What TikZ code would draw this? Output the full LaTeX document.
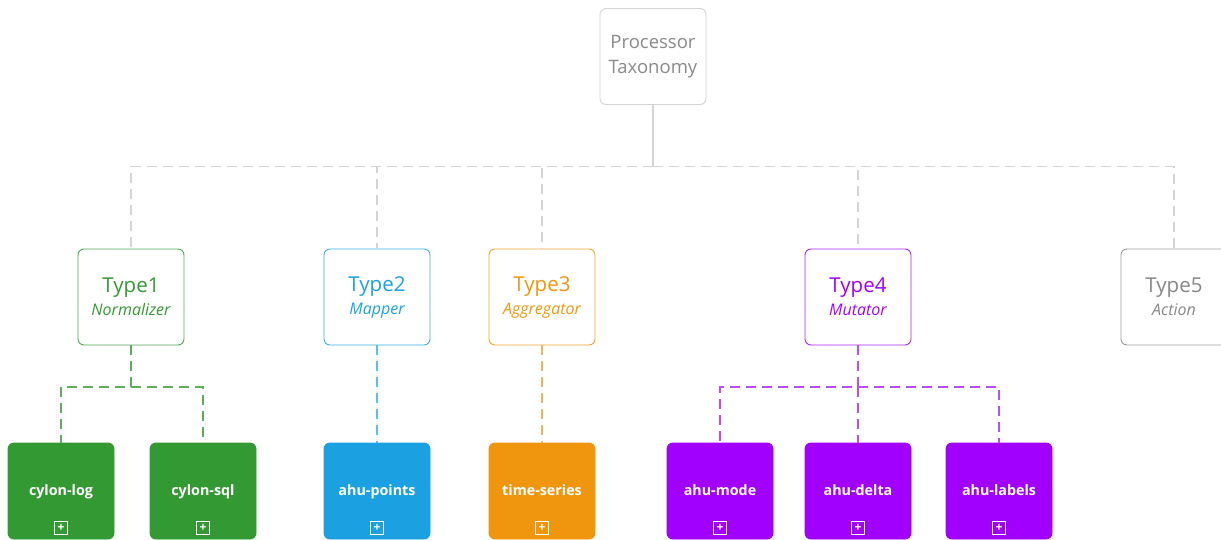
\documentclass[tikz,border=0pt]{standalone}
\usepackage{fontspec}
\setmainfont{Open Sans}
\usetikzlibrary{calc}
\definecolor{gline}{HTML}{D4D4D4}
\definecolor{groot}{HTML}{8A8A8A}
\definecolor{cgreen}{HTML}{339933}
\definecolor{cblue}{HTML}{1BA1E2}
\definecolor{corange}{HTML}{F0960E}
\definecolor{cpurple}{HTML}{A100FF}
\definecolor{cgray}{HTML}{888888}
\newcommand\subtxt{\fontsize{16}{18}\selectfont\itshape}
\tikzset{
  boxbase/.style={rounded corners=6pt, minimum width=106pt, minimum height=96pt, inner sep=0pt, align=center, line width=0.9pt},
  rootbox/.style={boxbase, draw=gline, fill=white, text=groot, font=\fontsize{18.5}{25}\selectfont},
  typebox/.style={boxbase, draw=#1!85, fill=white, text=#1, font=\fontsize{20.5}{23}\selectfont},
  leafbox/.style={boxbase, draw=#1, fill=#1, text=white, text height=11pt, text depth=3pt, font=\fontsize{14.3}{17}\selectfont\bfseries},
  conn/.style={draw=#1, line width=1.1pt, dash pattern=on 10pt off 6pt},
  plusbox/.style={draw=white, line width=0.9pt, minimum size=12.5pt, inner sep=0pt, text=white, font=\fontsize{12}{12}\selectfont\bfseries}
}
\begin{document}
\begin{tikzpicture}[x=1pt,y=-1pt]
\useasboundingbox (0,0) rectangle (1221,539);
% junction coordinates
\coordinate (bus) at (653,166.5);
\coordinate (j1) at (131,387);
\coordinate (j4) at (858,387);
% root
\node[rootbox] (root) at (653,56.5) {Processor\\Taxonomy};
% types
\node[typebox=cgreen] (t1) at (131,297) {Type1\\{\subtxt Normalizer}};
\node[typebox=cblue] (t2) at (377,297) {Type2\\{\subtxt Mapper}};
\node[typebox=corange] (t3) at (542,297) {Type3\\{\subtxt Aggregator}};
\node[typebox=cpurple] (t4) at (858,297) {Type4\\{\subtxt Mutator}};
\node[typebox=cgray] (t5) at (1174,297) {Type5\\{\subtxt Action}};
% leaves
\node[leafbox=cgreen] (l1) at (61,491) {cylon-log};
\node[leafbox=cgreen] (l2) at (203,491) {cylon-sql};
\node[leafbox=cblue] (l3) at (377,491) {ahu-points};
\node[leafbox=corange] (l4) at (542,491) {time-series};
\node[leafbox=cpurple] (l5) at (720,491) {ahu-mode};
\node[leafbox=cpurple] (l6) at (858,491) {ahu-delta};
\node[leafbox=cpurple] (l7) at (999,491) {ahu-labels};
% plus icons
\foreach \n/\x in {p1/61,p2/203,p3/377,p4/542,p5/720,p6/858,p7/999}{
  \node[plusbox] (\n) at (\x,528) {+};
}
% root connectors
\draw[draw=gline, line width=1.1pt] (root.south) -- (bus);
\draw[conn=gline] (bus) -| (t1.north);
\draw[conn=gline] (bus) -| (t2.north);
\draw[conn=gline] (bus) -| (t3.north);
\draw[conn=gline] (bus) -| (t4.north);
\draw[conn=gline] (bus) -| (t5.north);
% type1 branch
\draw[conn=cgreen!80] (t1.south) -- (j1) -| (l1.north);
\draw[conn=cgreen!80] (j1) -| (l2.north);
% type2, type3
\draw[conn=cblue!70] (t2.south) -- (l3.north);
\draw[conn=corange!70] (t3.south) -- (l4.north);
% type4 branch
\draw[conn=cpurple!70] (t4.south) -- (j4) -| (l5.north);
\draw[conn=cpurple!70] (j4) -- (l6.north);
\draw[conn=cpurple!70] (j4) -| (l7.north);
\end{tikzpicture}
\end{document}
